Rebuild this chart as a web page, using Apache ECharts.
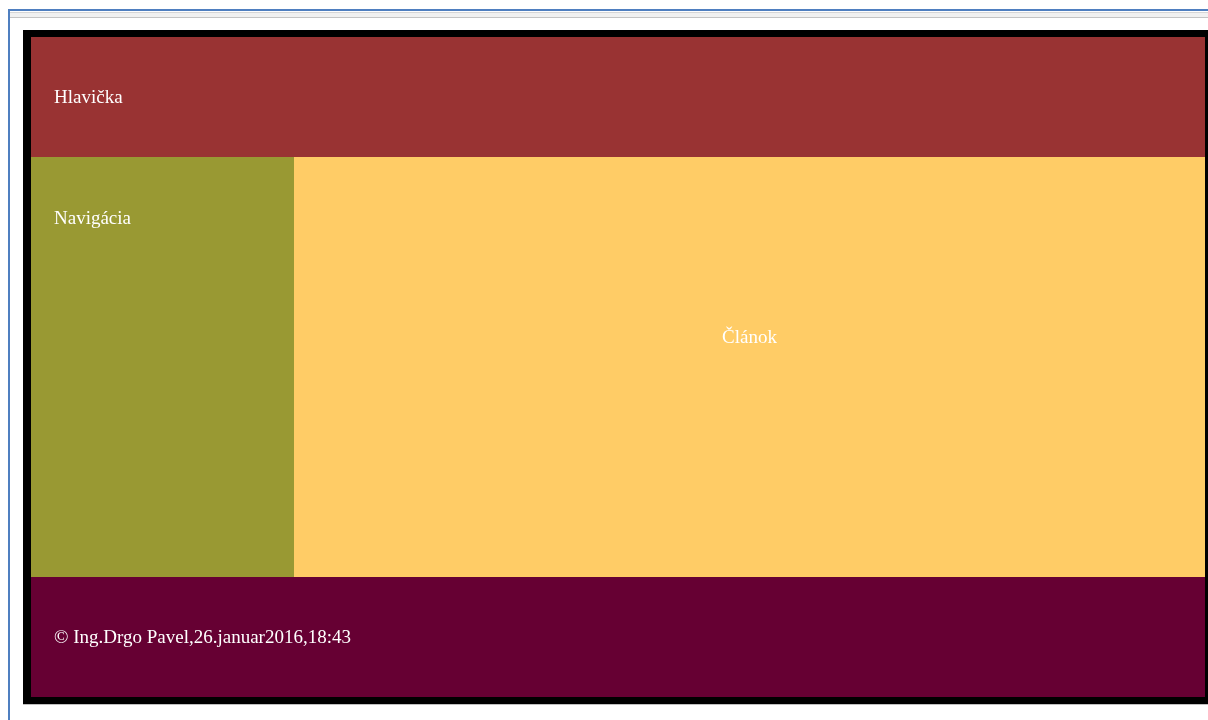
<!DOCTYPE html>
<html>
<head>
<meta charset="utf-8">
<script src="https://cdn.jsdelivr.net/npm/echarts@6/dist/echarts.min.js"></script>
<style>
  html, body { margin: 0; padding: 0; background: #fff; }
  #page { width: 1208px; height: 720px; }
</style>
</head>
<body>
<div id="page"></div>
<script>
// oblasti stranky (data v "pixelovych" jednotkach osi)
var regionNames = ['Hlavička', 'Navigácia', 'Článok', '© Ing.Drgo Pavel,26.januar2016,18:43'];
var regionLeft = [31, 31, 294, 31];
var regionRight = [1205, 294, 1205, 1205];
var regionTop = [37, 157, 157, 577];
var regionBottom = [157, 577, 577, 697];

// cierny ram okolo celeho layoutu
var frameLeft = [23];
var frameRight = [1208];
var frameTop = [30];
var frameBottom = [704];

var regionColors = ['#993333', '#999933', '#FFCC66', '#660033'];
// umiestnenie textu v ramci oblasti
var labelPlace = [
    { align: 'left', dx: 23, dy: 'middle' },
    { align: 'left', dx: 23, dy: 62 },
    { align: 'center', dx: 'center', dy: 181 },
    { align: 'left', dx: 23, dy: 'middle' }
];

var regionData = regionNames.map(function (n, i) {
    return { name: n, value: [regionLeft[i], regionTop[i], regionRight[i], regionBottom[i]] };
});
var frameData = frameLeft.map(function (v, i) {
    return [frameLeft[i], frameTop[i], frameRight[i], frameBottom[i]];
});

function boxRect(api) {
    var p0 = api.coord([api.value(0), api.value(1)]);
    var p1 = api.coord([api.value(2), api.value(3)]);
    return { x: p0[0], y: p0[1], width: p1[0] - p0[0], height: p1[1] - p0[1] };
}

var chart = echarts.init(document.getElementById('page'), null, { renderer: 'canvas' });

var option = {
    backgroundColor: '#ffffff',
    animation: false,
    grid: { left: 0, right: 0, top: 0, bottom: 0 },
    xAxis: { type: 'value', min: 0, max: 1208, show: false },
    yAxis: { type: 'value', min: 0, max: 720, inverse: true, show: false },
    // okno prehliadaca
    graphic: [
        { type: 'rect', shape: { x: 10, y: 12, width: 1198, height: 5 }, style: { fill: '#f1f1f1' }, z: 1 },
        { type: 'rect', shape: { x: 10, y: 12, width: 1198, height: 1 }, style: { fill: '#d6d6d6' }, z: 1 },
        { type: 'rect', shape: { x: 10, y: 17, width: 1198, height: 1 }, style: { fill: '#c4c4c4' }, z: 1 },
        { type: 'rect', shape: { x: 8, y: 9, width: 1200, height: 2 }, style: { fill: '#4f7fc0' }, z: 2 },
        { type: 'rect', shape: { x: 8, y: 9, width: 2, height: 711 }, style: { fill: '#4f7fc0' }, z: 2 },
        { type: 'rect', shape: { x: 23, y: 704, width: 1185, height: 1 }, style: { fill: '#c0c0c0' }, z: 1 }
    ],
    series: [
        {
            type: 'custom',
            name: 'ram',
            coordinateSystem: 'cartesian2d',
            silent: true,
            z: 1,
            data: frameData,
            renderItem: function (params, api) {
                return { type: 'rect', shape: boxRect(api), style: { fill: '#000000' } };
            }
        },
        {
            type: 'custom',
            name: 'layout',
            coordinateSystem: 'cartesian2d',
            silent: true,
            z: 2,
            data: regionData,
            renderItem: function (params, api) {
                var i = params.dataIndex;
                var r = boxRect(api);
                var lp = labelPlace[i];
                var tx = lp.dx === 'center' ? r.x + r.width / 2 : r.x + lp.dx;
                var ty = lp.dy === 'middle' ? r.y + r.height / 2 + 1.5 : r.y + lp.dy;
                return {
                    type: 'group',
                    children: [
                        { type: 'rect', shape: r, style: { fill: regionColors[i] } },
                        {
                            type: 'text',
                            style: {
                                text: regionNames[i],
                                x: tx,
                                y: ty,
                                fill: '#ffffff',
                                fontSize: 19,
                                fontFamily: '"Liberation Serif", "DejaVu Serif", serif',
                                align: lp.align,
                                verticalAlign: 'middle'
                            }
                        }
                    ]
                };
            }
        }
    ]
};

chart.setOption(option);
</script>
</body>
</html>
